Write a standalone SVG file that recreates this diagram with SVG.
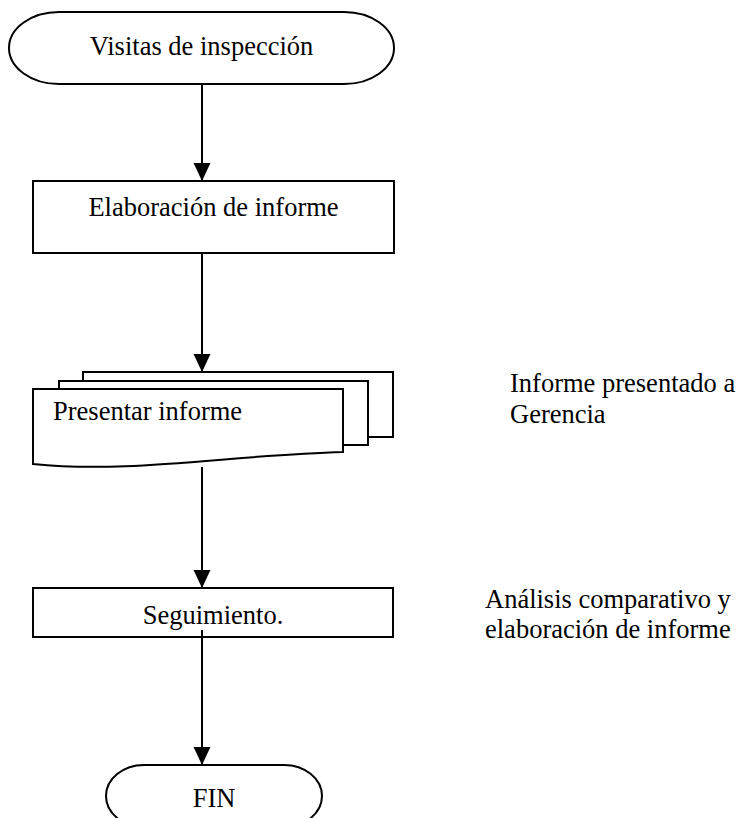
<svg xmlns="http://www.w3.org/2000/svg" width="739" height="818" viewBox="0 0 739 818">
<style>
.s{fill:#fff;stroke:#000;stroke-width:2}
.t{font-family:"Liberation Serif","Times New Roman",serif;font-size:26.5px;fill:#000}
.c{stroke:#000;stroke-width:2;fill:none}
</style>
<defs>
<marker id="ah" markerUnits="userSpaceOnUse" markerWidth="18" markerHeight="18" viewBox="0 0 17 16" refX="17" refY="8" orient="auto">
<path d="M0,0 L17,8 L0,16 Z" fill="#000"/>
</marker>
</defs>
<rect width="739" height="818" fill="#fff"/>
<g id="n-visitas">
<rect class="s" x="9" y="12" width="385" height="72" rx="50" ry="36"/>
<text class="t" x="201.5" y="55" text-anchor="middle">Visitas de inspección</text>
</g>
<g id="n-elaboracion">
<rect class="s" x="33" y="181" width="361" height="72"/>
<text class="t" x="213.5" y="216" text-anchor="middle">Elaboración de informe</text>
</g>
<g id="n-presentar">
<rect class="s" x="83" y="372" width="310" height="65"/>
<rect class="s" x="59" y="381" width="309" height="64"/>
<path class="s" d="M33,389 H343 V452 C230,455 130,474 33,464 Z"/>
<text class="t" x="53" y="420">Presentar informe</text>
</g>
<g id="n-seguimiento">
<rect class="s" x="33" y="588" width="360" height="49"/>
<text class="t" x="213" y="624" text-anchor="middle">Seguimiento.</text>
</g>
<g id="n-fin">
<rect class="s" x="106" y="765" width="216" height="62" rx="38" ry="31"/>
<text class="t" x="214" y="807" text-anchor="middle">FIN</text>
</g>
<g id="notes">
<text class="t" x="510" y="392">Informe presentado a</text>
<text class="t" x="510" y="423">Gerencia</text>
<text class="t" x="485" y="608">Análisis comparativo y</text>
<text class="t" x="485" y="638">elaboración de informe</text>
</g>
<g id="connectors">
<line class="c" x1="202" y1="84" x2="202" y2="181" marker-end="url(#ah)"/>
<line class="c" x1="202" y1="253" x2="202" y2="372" marker-end="url(#ah)"/>
<line class="c" x1="202" y1="467" x2="202" y2="588" marker-end="url(#ah)"/>
<line class="c" x1="202" y1="630" x2="202" y2="765" marker-end="url(#ah)"/>
</g>
</svg>
